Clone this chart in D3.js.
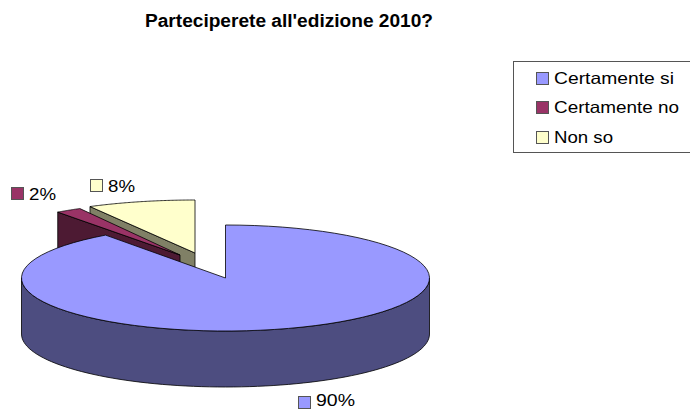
<!DOCTYPE html>
<html>
<head>
<meta charset="utf-8">
<script src="https://cdn.jsdelivr.net/npm/d3@7"></script>
<style>
  html, body { margin: 0; padding: 0; background: #fff; }
  text { font-family: "Liberation Sans", Arial, sans-serif; fill: #000; }
</style>
</head>
<body>
<div id="chart"></div>
<script>
// data
const categories = ["Certamente si", "Certamente no", "Non so"];
const values = [90, 2, 8];
const labels = ["90%", "2%", "8%"];
const colors = ["#9999ff", "#993366", "#ffffcc"];
const wallColors = ["#4d4d80", "#4d1a33", "#808066"];

const width = 690, height = 410;
const ry = 53, depth = 56;

// where each slice's apex sits, the small two are pulled out of the pie
const apex = [[225.5, 278], [180, 255], [195, 253]];
const sliceRx = [204, 208, 218];
// label swatch position and text size (the original is stretched sideways)
const labelPos = [[298, 396], [11, 187], [90, 179]];
const labelLen = [39, 27, 27];
const labelBase = [10, 13, 13];
const legendY = [72, 101, 131];
const legendLen = [120, 125, 59];

const svg = d3.select("#chart").append("svg")
    .attr("width", width)
    .attr("height", height)
    .style("display", "block");

svg.append("text")
    .attr("x", 145)
    .attr("y", 27)
    .attr("textLength", 288)
    .attr("lengthAdjust", "spacingAndGlyphs")
    .style("font-size", "17.5px")
    .style("font-weight", "bold")
    .text("Parteciperete all'edizione 2010?");

const pie = d3.pie().sort(null).value(d => d);
const slices = pie(values);

// flatten the pie into an ellipse
const rimY = d3.scaleLinear().domain([-1, 1]).range([ry, -ry]);
const line = d3.line().curve(d3.curveLinear);

function rim(i, a, dy) {
    return [apex[i][0] + sliceRx[i] * Math.sin(a), apex[i][1] + rimY(Math.cos(a)) + (dy || 0)];
}

function arcPoints(i, a0, a1, dy) {
    return d3.range(0, 81).map(k => rim(i, a0 + (a1 - a0) * k / 80, dy));
}

function topPath(d, i) {
    return line([apex[i], ...arcPoints(i, d.startAngle, d.endAngle)]) + "Z";
}

function wallPath(d, i) {
    if (i === 0) {
        // front of the big slice, only the part facing the viewer
        const a0 = Math.PI / 2, a1 = Math.PI * 1.5;
        return line([...arcPoints(i, a0, a1), ...arcPoints(i, a1, a0, depth)]) + "Z";
    }
    // cut face on the left side of the pulled out slices
    const p = rim(i, d.startAngle);
    return line([apex[i], p, [p[0], p[1] + depth], [apex[i][0], apex[i][1] + depth]]) + "Z";
}

// back slices first so the big one covers them
[2, 1, 0].forEach(i => {
    const g = svg.append("g");
    g.append("path")
        .attr("d", wallPath(slices[i], i))
        .attr("fill", wallColors[i])
        .attr("stroke", "#000")
        .attr("stroke-width", 0.8)
        .attr("stroke-linejoin", "round");
    g.append("path")
        .attr("d", topPath(slices[i], i))
        .attr("fill", colors[i])
        .attr("stroke", "#000")
        .attr("stroke-width", 0.8)
        .attr("stroke-linejoin", "round");
});

// data labels
const dataLabel = svg.append("g").selectAll("g")
    .data(labels)
    .join("g")
    .attr("transform", (d, i) => `translate(${labelPos[i][0]},${labelPos[i][1]})`);

dataLabel.append("rect")
    .attr("x", 0.5).attr("y", 0.5)
    .attr("width", 12).attr("height", 12)
    .attr("fill", (d, i) => colors[i])
    .attr("stroke", "#555")
    .attr("stroke-width", 1);

dataLabel.append("text")
    .attr("x", 18)
    .attr("y", (d, i) => labelBase[i])
    .attr("textLength", (d, i) => labelLen[i])
    .attr("lengthAdjust", "spacingAndGlyphs")
    .style("font-size", "16.5px")
    .text(d => d);

// legend
const legend = svg.append("g");

legend.append("rect")
    .attr("x", 513.5).attr("y", 61.5)
    .attr("width", 190).attr("height", 91)
    .attr("fill", "#fff")
    .attr("stroke", "#555")
    .attr("stroke-width", 1);

const legendRow = legend.selectAll("g")
    .data(categories)
    .join("g")
    .attr("transform", (d, i) => `translate(536,${legendY[i]})`);

legendRow.append("rect")
    .attr("x", 0.5).attr("y", 0.5)
    .attr("width", 12).attr("height", 12)
    .attr("fill", (d, i) => colors[i])
    .attr("stroke", "#555");

legendRow.append("text")
    .attr("x", 18)
    .attr("y", 12)
    .attr("textLength", (d, i) => legendLen[i])
    .attr("lengthAdjust", "spacingAndGlyphs")
    .style("font-size", "16.5px")
    .text(d => d);
</script>
</body>
</html>
